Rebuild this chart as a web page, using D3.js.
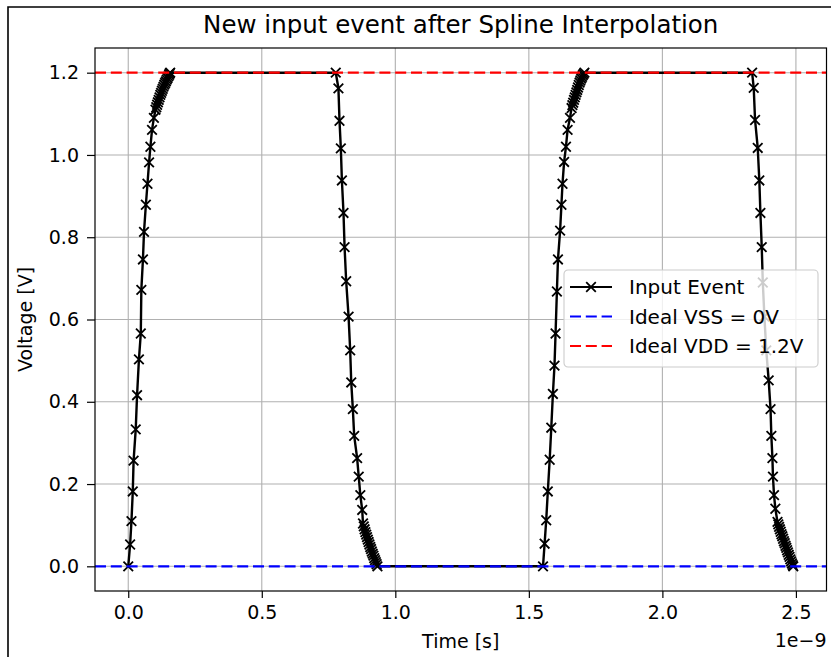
<!DOCTYPE html>
<html>
<head>
<meta charset="utf-8">
<script src="https://cdn.jsdelivr.net/npm/d3@7/dist/d3.min.js"></script>
<style>
  body { margin: 0; background: #fff; }
  text { font-family: "DejaVu Sans", sans-serif; fill: #000; }
</style>
</head>
<body>
<div id="chart"></div>
<script>
// Times are in units of 1e-9 s (axis shows the 1e-9 offset), voltages in V.
// Rising edge 1
const rise1T = [0.000, 0.007, 0.012, 0.017, 0.020, 0.028, 0.033, 0.040, 0.047, 0.049, 0.055, 0.059, 0.066, 0.072, 0.078, 0.083, 0.089, 0.096, 0.102,
                0.105, 0.108, 0.111, 0.114, 0.117, 0.120, 0.123, 0.126, 0.129, 0.132, 0.135, 0.138, 0.141, 0.144, 0.147, 0.150, 0.153, 0.155, 0.157];
const rise1V = [0.000, 0.053, 0.110, 0.182, 0.257, 0.333, 0.416, 0.503, 0.566, 0.672, 0.746, 0.813, 0.879, 0.930, 0.982, 1.020, 1.061, 1.090, 1.110,
                1.116, 1.122, 1.128, 1.134, 1.140, 1.146, 1.151, 1.156, 1.161, 1.166, 1.171, 1.175, 1.179, 1.183, 1.187, 1.191, 1.195, 1.198, 1.200];
// Falling edge 1
const fall1T = [0.777, 0.787, 0.791, 0.796, 0.800, 0.806, 0.810, 0.816, 0.825, 0.831, 0.835, 0.841, 0.846, 0.857, 0.863, 0.869, 0.876, 0.879,
                0.882, 0.885, 0.888, 0.891, 0.894, 0.897, 0.900, 0.903, 0.906, 0.909, 0.912, 0.915, 0.918, 0.921, 0.924, 0.927, 0.930, 0.933];
const fall1V = [1.200, 1.162, 1.083, 1.016, 0.938, 0.859, 0.776, 0.693, 0.607, 0.525, 0.447, 0.382, 0.317, 0.263, 0.218, 0.173, 0.137, 0.104,
                0.097, 0.090, 0.083, 0.077, 0.071, 0.065, 0.059, 0.053, 0.047, 0.042, 0.036, 0.031, 0.026, 0.020, 0.015, 0.010, 0.005, 0.000];
// Rising edge 2
const rise2T = [1.553, 1.559, 1.565, 1.571, 1.578, 1.584, 1.590, 1.596, 1.600, 1.605, 1.609, 1.617, 1.622, 1.626, 1.632, 1.639, 1.645, 1.654, 1.660,
                1.663, 1.666, 1.669, 1.672, 1.675, 1.678, 1.681, 1.684, 1.687, 1.690, 1.693, 1.696, 1.699, 1.702, 1.705, 1.708];
const rise2V = [0.000, 0.055, 0.112, 0.182, 0.259, 0.337, 0.419, 0.488, 0.566, 0.668, 0.746, 0.816, 0.879, 0.930, 0.983, 1.020, 1.061, 1.090, 1.114,
                1.121, 1.127, 1.134, 1.140, 1.146, 1.152, 1.158, 1.164, 1.170, 1.176, 1.181, 1.186, 1.190, 1.194, 1.197, 1.200];
// Falling edge 2
const fall2T = [2.336, 2.342, 2.347, 2.357, 2.363, 2.367, 2.372, 2.376, 2.382, 2.389, 2.398, 2.405, 2.408, 2.412, 2.414, 2.418, 2.423, 2.431,
                2.434, 2.437, 2.440, 2.443, 2.446, 2.449, 2.452, 2.455, 2.458, 2.461, 2.464, 2.467, 2.470, 2.473, 2.476, 2.479, 2.482, 2.485, 2.488, 2.490];
const fall2V = [1.200, 1.163, 1.085, 1.017, 0.938, 0.859, 0.776, 0.690, 0.607, 0.525, 0.452, 0.382, 0.317, 0.263, 0.218, 0.173, 0.140, 0.108,
                0.102, 0.096, 0.090, 0.084, 0.078, 0.073, 0.067, 0.061, 0.056, 0.050, 0.045, 0.039, 0.034, 0.028, 0.023, 0.017, 0.012, 0.007, 0.003, 0.000];

const xTicks = [0.0, 0.5, 1.0, 1.5, 2.0, 2.5];
const yTicks = [0.0, 0.2, 0.4, 0.6, 0.8, 1.0, 1.2];
const vss = 0.0;
const vdd = 1.2;
const legendItems = [
  { label: 'Input Event',       color: '#000000', type: 'marker' },
  { label: 'Ideal VSS = 0V',    color: '#0000ff', type: 'dash' },
  { label: 'Ideal VDD = 1.2V',  color: '#ff0000', type: 'dash' }
];

const W = 831, H = 657;
const plot = { left: 95, right: 826.5, top: 48, bottom: 591 };

const svg = d3.select('#chart').append('svg')
  .attr('width', W).attr('height', H);

// outer frame (left + top edges of the screenshot border)
svg.append('path')
  .attr('d', `M8,${H} L8,7 L${W},7`)
  .attr('fill', 'none').attr('stroke', '#000').attr('stroke-width', 1.6);

// Build the points from the edge arrays
const edges = [[rise1T, rise1V], [fall1T, fall1V], [rise2T, rise2V], [fall2T, fall2V]];
const points = edges.flatMap(([ts, vs]) => ts.map((t, i) => ({ t, v: vs[i] })));

// matplotlib-style 5% margins
const xMin = d3.min(points, d => d.t), xMax = d3.max(points, d => d.t);
const xPad = (xMax - xMin) * 0.05;
const x = d3.scaleLinear().domain([xMin - xPad, xMax + xPad]).range([plot.left, plot.right]);
const yPad = (vdd - vss) * 0.05;
const y = d3.scaleLinear().domain([vss - yPad, vdd + yPad]).range([plot.bottom, plot.top]);

// ── Grid ──────────────────────────────────────────────
const grid = svg.append('g');
grid.selectAll('.gx').data(xTicks).join('line')
  .attr('x1', d => x(d)).attr('x2', d => x(d))
  .attr('y1', plot.top).attr('y2', plot.bottom)
  .attr('stroke', '#b0b0b0').attr('stroke-width', 1.1);
grid.selectAll('.gy').data(yTicks).join('line')
  .attr('x1', plot.left).attr('x2', plot.right)
  .attr('y1', d => y(d)).attr('y2', d => y(d))
  .attr('stroke', '#b0b0b0').attr('stroke-width', 1.1);

// ── Input event line + x markers ──────────────────────
const line = d3.line().x(d => x(d.t)).y(d => y(d.v));
svg.append('path')
  .datum(points)
  .attr('fill', 'none')
  .attr('stroke', '#000')
  .attr('stroke-width', 2.4)
  .attr('stroke-linejoin', 'round')
  .attr('d', line);

const ms = 4.8;
const xMarker = `M${-ms},${-ms}L${ms},${ms}M${-ms},${ms}L${ms},${-ms}`;
svg.append('g').selectAll('path').data(points).join('path')
  .attr('transform', d => `translate(${x(d.t)},${y(d.v)})`)
  .attr('d', xMarker)
  .attr('stroke', '#000').attr('stroke-width', 1.8).attr('fill', 'none');

// ── Ideal levels ──────────────────────────────────────
svg.append('line')
  .attr('x1', plot.left).attr('x2', plot.right)
  .attr('y1', y(vss)).attr('y2', y(vss))
  .attr('stroke', '#0000ff').attr('stroke-width', 2.2)
  .attr('stroke-dasharray', '11 4.8');
svg.append('line')
  .attr('x1', plot.left).attr('x2', plot.right)
  .attr('y1', y(vdd)).attr('y2', y(vdd))
  .attr('stroke', '#ff0000').attr('stroke-width', 2.2)
  .attr('stroke-dasharray', '11 4.8');

// ── Axes ──────────────────────────────────────────────
const xAxis = svg.append('g')
  .attr('transform', `translate(0,${plot.bottom})`)
  .call(d3.axisBottom(x).tickValues(xTicks).tickFormat(d3.format('.1f'))
    .tickSize(7).tickPadding(8).tickSizeOuter(0));
const yAxis = svg.append('g')
  .attr('transform', `translate(${plot.left},0)`)
  .call(d3.axisLeft(y).tickValues(yTicks).tickFormat(d3.format('.1f'))
    .tickSize(8).tickPadding(8).tickSizeOuter(0));
[xAxis, yAxis].forEach(a => {
  a.select('.domain').remove();
  a.selectAll('.tick line').attr('stroke', '#000').attr('stroke-width', 1.2);
  a.selectAll('.tick text').attr('font-size', '19px')
    .attr('font-family', '"DejaVu Sans", sans-serif').attr('fill', '#000');
});

// spines
svg.append('rect')
  .attr('x', plot.left).attr('y', plot.top)
  .attr('width', plot.right - plot.left).attr('height', plot.bottom - plot.top)
  .attr('fill', 'none').attr('stroke', '#000').attr('stroke-width', 1.2);

// ── Labels ────────────────────────────────────────────
svg.append('text')
  .attr('x', (plot.left + plot.right) / 2).attr('y', 33)
  .attr('text-anchor', 'middle').attr('font-size', '24.5px')
  .text('New input event after Spline Interpolation');

svg.append('text')
  .attr('x', (plot.left + plot.right) / 2).attr('y', 648)
  .attr('text-anchor', 'middle').attr('font-size', '19px')
  .text('Time [s]');

svg.append('text')
  .attr('x', plot.right).attr('y', 647)
  .attr('text-anchor', 'end').attr('font-size', '19px')
  .text('1e\u22129');

svg.append('text')
  .attr('transform', `translate(32,${(plot.top + plot.bottom) / 2}) rotate(-90)`)
  .attr('text-anchor', 'middle').attr('font-size', '19px')
  .text('Voltage [V]');

// ── Legend ────────────────────────────────────────────
const legend = svg.append('g').attr('transform', 'translate(564,270)');
legend.append('rect')
  .attr('width', 254).attr('height', 97).attr('rx', 4)
  .attr('fill', '#fff').attr('fill-opacity', 0.8)
  .attr('stroke', '#cccccc').attr('stroke-width', 1.1);

legendItems.forEach((item, i) => {
  const cy = 17 + i * 29.5;
  const row = legend.append('g').attr('transform', `translate(0,${cy})`);
  row.append('line')
    .attr('x1', 6).attr('x2', 48).attr('y1', 0).attr('y2', 0)
    .attr('stroke', item.color).attr('stroke-width', 2.2)
    .attr('stroke-dasharray', item.type === 'dash' ? '11 4.8' : null);
  if (item.type === 'marker') {
    row.append('path')
      .attr('transform', 'translate(27,0)')
      .attr('d', xMarker)
      .attr('stroke', item.color).attr('stroke-width', 1.8).attr('fill', 'none');
  }
  row.append('text')
    .attr('x', 65).attr('y', 0).attr('dy', '0.35em')
    .attr('font-size', '20px')
    .text(item.label);
});
</script>
</body>
</html>
